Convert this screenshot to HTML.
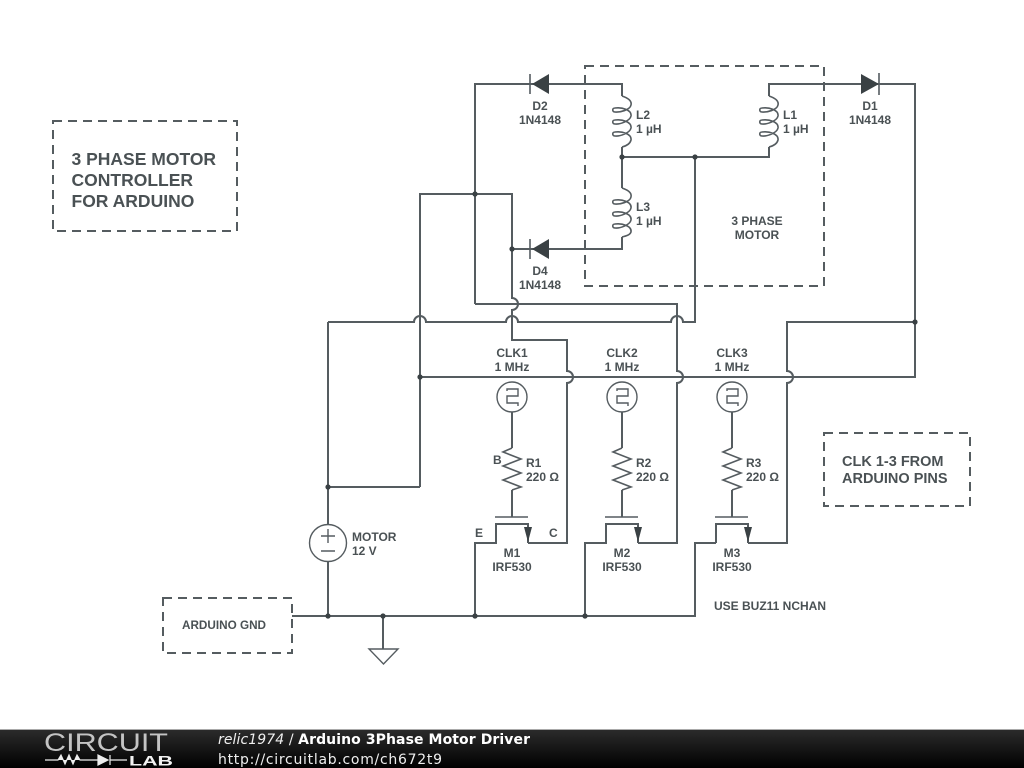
<!DOCTYPE html>
<html><head><meta charset="utf-8"><title>Arduino 3Phase Motor Driver</title>
<style>
html,body{margin:0;padding:0;background:#fff;width:1024px;height:768px;overflow:hidden}
svg{display:block;position:absolute;left:0;top:0}
.w{fill:none;stroke:#555c60;stroke-width:2}
.t{fill:none;stroke:#555c60;stroke-width:1.4}
.s{fill:none;stroke:#555c60;stroke-width:1.6}
.d{fill:none;stroke:#555c60;stroke-width:2;stroke-dasharray:9 6}
.n{fill:#3a4144}
text{font-family:"Liberation Sans",sans-serif;font-weight:bold;fill:#4a5154;font-size:12px}
.c{text-anchor:middle}
.b{font-size:17.5px}
.m{font-size:14.500px}
.f{font-family:"DejaVu Sans",sans-serif;font-size:14px;fill:#eee;font-weight:normal}
#dg{filter:blur(0.35px)}
</style></head><body>
<svg width="1024" height="768" viewBox="0 0 1024 768" xmlns="http://www.w3.org/2000/svg">
<defs>
<linearGradient id="g" x1="0" y1="0" x2="0" y2="1"><stop offset="0" stop-color="#2b2b2b"/><stop offset="1" stop-color="#000"/></linearGradient>
</defs>
<g id="dg">
<rect x="53" y="121" width="184" height="110" class="d"/>
<rect x="585" y="66" width="239" height="220" class="d"/>
<rect x="824" y="433" width="146" height="73" class="d"/>
<rect x="163" y="598" width="129" height="55" class="d"/>

<path class="w" d="M475 304V84H622V96M622 147V188M622 237V249H512M622 157H769V147M769 96V84H915V377H420"/>
<path class="w" d="M915 322H787V371a6 6 0 0 1 0 12V543H748"/>
<path class="w" d="M420 487V194H512V298a6 6 0 0 1 0 12V340H567V371a6 6 0 0 1 0 12V543H528"/>
<path class="w" d="M475 304H677V371a6 6 0 0 1 0 12V543H638"/>
<path class="w" d="M420 487H328M328 322V524M328 562V616"/>
<path class="w" d="M328 322H414a6 6 0 0 1 12 0H506a6 6 0 0 1 12 0H671a6 6 0 0 1 12 0H695V157"/>
<path class="w" d="M292 616H695V543H716M475 616V543H496V524H528V543M585 616V543H606V524H638V543M716 543V524H748V543M383 616V649"/>
<path class="w" d="M512 412V448M512 490V517M622 412V448M622 490V517M732 412V448M732 490V517"/>

<g class="t">
<path d="M495 517H528M605 517H638M715 517H748"/>
<circle cx="512" cy="397" r="15"/><circle cx="622" cy="397" r="15"/><circle cx="732" cy="397" r="15"/>
<path d="M507 391V389H518V396H507V403H518V406"/>
<path d="M617 391V389H628V396H617V403H628V406"/>
<path d="M727 391V389H738V396H727V403H738V406"/>
<circle cx="328" cy="543" r="18.500"/>
<path d="M321 536H335M328 529V543M321 551H335"/>
<path d="M369 649H398L383.500 664Z"/>
</g>
<g class="s">
<path d="M512 448L503 452L521 459L503 466L521 473L503 480L521 487L512 490"/>
<path d="M622 448L613 452L631 459L613 466L631 473L613 480L631 487L622 490"/>
<path d="M732 448L723 452L741 459L723 466L741 473L723 480L741 487L732 490"/>
<path d="M622 96C628 98 632 101 631 105C630 110 620 112.500 615 112C612 112 612 108 615 108C622 107 632 110 631 116C630 121 620 124.500 615 124C612 124 612 120 615 120C622 119 632 122 631 128C630 133 620 136.500 615 136C612 136 612 132 615 132C622 131 632 134 631 140C630 144 626 146 622 147"/>
<path d="M622 188C628 190 632 193 631 197C630 202 620 204.500 615 204C612 204 612 200 615 200C622 199 632 202 631 208C630 213 620 216.500 615 216C612 216 612 212 615 212C622 211 632 214 631 220C630 225 620 228.500 615 228C612 228 612 224 615 224C622 223 632 226 631 232C630 235 626 236 622 237"/>
<path d="M769 96C775 98 779 101 778 105C777 110 767 112.500 762 112C759 112 759 108 762 108C769 107 779 110 778 116C777 121 767 124.500 762 124C759 124 759 120 762 120C769 119 779 122 778 128C777 133 767 136.500 762 136C759 136 759 132 762 132C769 131 779 134 778 140C777 144 773 146 769 147"/>
</g>

<g class="n">
<path d="M532 84L549 74V94Z"/><path d="M532 249L549 239V259Z"/><path d="M879 84L861 74V94Z"/>
<path d="M524 527H532L528 542Z"/><path d="M634 527H642L638 542Z"/><path d="M744 527H752L748 542Z"/>
</g>
<path class="s" d="M530 74V94M530 239V259M879 73V95"/>
<g class="n">
<circle cx="475" cy="194" r="2.600"/><circle cx="622" cy="157" r="2.600"/><circle cx="695" cy="157" r="2.600"/>
<circle cx="512" cy="249" r="2.600"/><circle cx="915" cy="322" r="2.600"/><circle cx="420" cy="377" r="2.600"/>
<circle cx="328" cy="487" r="2.600"/><circle cx="328" cy="616" r="2.600"/><circle cx="383" cy="616" r="2.600"/>
<circle cx="475" cy="616" r="2.600"/><circle cx="585" cy="616" r="2.600"/>
</g>

<text x="71.500" y="165" class="b">3 PHASE MOTOR</text>
<text x="71.500" y="186" class="b">CONTROLLER</text>
<text x="71.500" y="207" class="b">FOR ARDUINO</text>
<text x="842" y="466" class="m">CLK 1-3 FROM</text>
<text x="842" y="483" class="m">ARDUINO PINS</text>
<text x="224" y="629" class="c" textLength="84" lengthAdjust="spacingAndGlyphs">ARDUINO GND</text>
<text x="757" y="225" class="c">3 PHASE</text>
<text x="757" y="239" class="c">MOTOR</text>
<text x="770" y="610" class="c">USE BUZ11 NCHAN</text>

<text x="540" y="110" class="c">D2</text><text x="540" y="124" class="c">1N4148</text>
<text x="540" y="275" class="c">D4</text><text x="540" y="289" class="c">1N4148</text>
<text x="870" y="110" class="c">D1</text><text x="870" y="124" class="c">1N4148</text>
<text x="636" y="119">L2</text><text x="636" y="133">1 µH</text>
<text x="636" y="211">L3</text><text x="636" y="225">1 µH</text>
<text x="783" y="119">L1</text><text x="783" y="133">1 µH</text>

<text x="512" y="357" class="c">CLK1</text><text x="512" y="371" class="c">1 MHz</text>
<text x="622" y="357" class="c">CLK2</text><text x="622" y="371" class="c">1 MHz</text>
<text x="732" y="357" class="c">CLK3</text><text x="732" y="371" class="c">1 MHz</text>

<text x="526" y="467">R1</text><text x="526" y="481">220 Ω</text>
<text x="636" y="467">R2</text><text x="636" y="481">220 Ω</text>
<text x="746" y="467">R3</text><text x="746" y="481">220 Ω</text>
<text x="493" y="464">B</text>
<text x="475" y="537">E</text>
<text x="549" y="537">C</text>
<text x="512" y="557" class="c">M1</text><text x="512" y="571" class="c">IRF530</text>
<text x="622" y="557" class="c">M2</text><text x="622" y="571" class="c">IRF530</text>
<text x="732" y="557" class="c">M3</text><text x="732" y="571" class="c">IRF530</text>
<text x="352" y="541">MOTOR</text><text x="352" y="555">12 V</text>
</g>

<rect x="0" y="730" width="1024" height="38" fill="url(#g)"/>
<rect x="0" y="729" width="1024" height="1" fill="#aaa"/>
<text x="44" y="751" style="font-weight:normal;font-size:25px;fill:#c4c4c4" textLength="124" lengthAdjust="spacingAndGlyphs">CIRCUIT</text>
<path d="M45 760H58L61 755L65 764L69 755L73 764L77 755L80 760H98M98 755L108 760L98 765ZM110 755V765M110 760H127" fill="#eee" stroke="#eee" stroke-width="1.200"/>
<text x="129" y="765.500" style="font-size:14px;fill:#f2f2f2" textLength="44" lengthAdjust="spacingAndGlyphs">LAB</text>
<text x="218" y="744" class="f" textLength="312" lengthAdjust="spacing"><tspan font-style="italic">relic1974</tspan> / <tspan font-weight="bold" style="fill:#fff">Arduino 3Phase Motor Driver</tspan></text>
<text x="218" y="764" class="f" textLength="224" lengthAdjust="spacing">http://circuitlab.com/ch672t9</text>
</svg>
</body></html>
